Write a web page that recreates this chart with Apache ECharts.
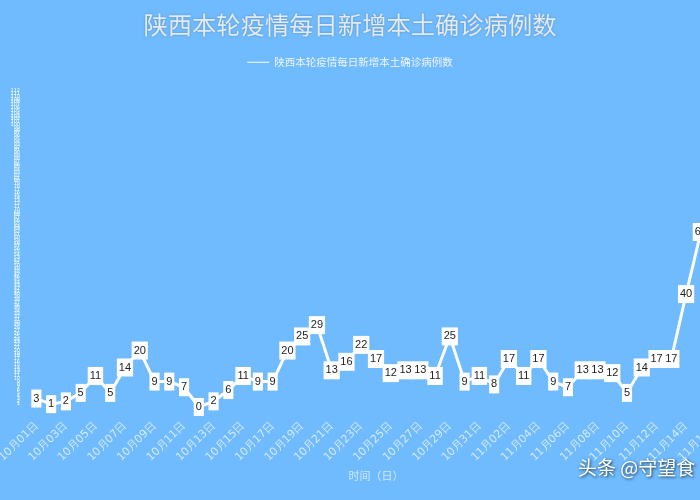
<!DOCTYPE html>
<html>
<head>
<meta charset="utf-8">
<script src="https://cdn.jsdelivr.net/npm/echarts@6/dist/echarts.min.js"></script>
<style>
html,body{margin:0;padding:0;background:#6fbbfe;}
#main{width:700px;height:500px;}
</style>
</head>
<body>
<div id="main"></div>
<script>
var titleText = '陕西本轮疫情每日新增本土确诊病例数';
var seriesName = '陕西本轮疫情每日新增本土确诊病例数';
var xAxisName = '时间（日）';
var watermark = '头条 @守望食';

var octDays = ['01','02','03','04','05','06','07','08','09','10','11','12','13','14','15','16','17','18','19','20','21','22','23','24','25','26','27','28','29','30','31'];
var novDays = ['01','02','03','04','05','06','07','08','09','10','11','12','13','14','15','16'];
var categories = octDays.map(function(d){return '10月' + d + '日';})
  .concat(novDays.map(function(d){return '11月' + d + '日';}));

var cases = [3,1,2,5,11,5,14,20,9,9,7,0,2,6,11,9,9,20,25,29,13,16,22,17,12,13,13,11,25,9,11,8,17,11,17,9,7,13,13,12,5,14,17,17,40,62,113];

var yMin = 0, yMax = 113, yInterval = 1;

var chart = echarts.init(document.getElementById('main'));
chart.setOption({
  backgroundColor: '#6fbbfe',
  animation: false,
  title: {
    text: titleText,
    left: 'center',
    top: 8,
    textStyle: {
      color: '#e4ebf2',
      fontSize: 24.3,
      fontWeight: 'normal',
      fontFamily: 'Noto Sans CJK SC',
      textShadowColor: 'rgba(60,80,110,0.5)',
      textShadowBlur: 2
    }
  },
  legend: {
    top: 52,
    left: 'center',
    itemWidth: 22,
    itemHeight: 10,
    itemGap: 10,
    icon: 'path://M0,4 L22,4 L22,5 L0,5 Z',
    textStyle: { color: '#eef4fb', fontSize: 10.5, fontFamily: 'Noto Sans CJK SC' },
    data: [{ name: seriesName, itemStyle: { color: '#ffffff' } }]
  },
  grid: { left: 29, width: 694, top: 88, bottom: 93, containLabel: false, outerBoundsMode: 'none' },
  xAxis: {
    type: 'category',
    data: categories,
    boundaryGap: true,
    name: xAxisName,
    nameLocation: 'middle',
    nameGap: 61,
    nameTextStyle: { color: 'rgba(255,255,255,0.65)', fontSize: 11, fontFamily: 'Noto Sans CJK SC' },
    axisLine: { show: false },
    axisTick: { show: false },
    axisLabel: {
      interval: 1,
      rotate: 45,
      margin: 17,
      color: 'rgba(255,255,255,0.7)',
      fontSize: 11,
      fontFamily: 'DejaVu Sans'
    },
    splitLine: { show: false }
  },
  yAxis: {
    type: 'value',
    min: yMin,
    max: yMax,
    interval: yInterval,
    axisLine: { show: false },
    axisTick: { show: false },
    splitLine: { show: false },
    axisLabel: { color: '#ffffff', fontSize: 5, margin: 9, fontFamily: 'DejaVu Sans' }
  },
  series: [{
    name: seriesName,
    type: 'line',
    data: cases,
    symbol: 'circle',
    symbolSize: 2,
    showSymbol: true,
    lineStyle: { color: '#ffffff', width: 3 },
    itemStyle: { color: '#ffffff' },
    label: {
      show: true,
      position: 'inside',
      color: '#222',
      fontSize: 11,
      fontFamily: 'Liberation Sans',
      backgroundColor: '#ffffff',
      padding: [4, 2, 3, 2]
    }
  }],
  graphic: [{
    type: 'text',
    left: 578,
    top: 458,
    silent: true,
    style: {
      text: watermark,
      fill: '#ffffff',
      fontSize: 19,
      fontFamily: 'Noto Sans CJK SC',
      textShadowColor: 'rgba(0,0,0,0.75)',
      textShadowBlur: 3,
      textShadowOffsetX: 1,
      textShadowOffsetY: 1
    }
  }]
});
</script>
</body>
</html>
